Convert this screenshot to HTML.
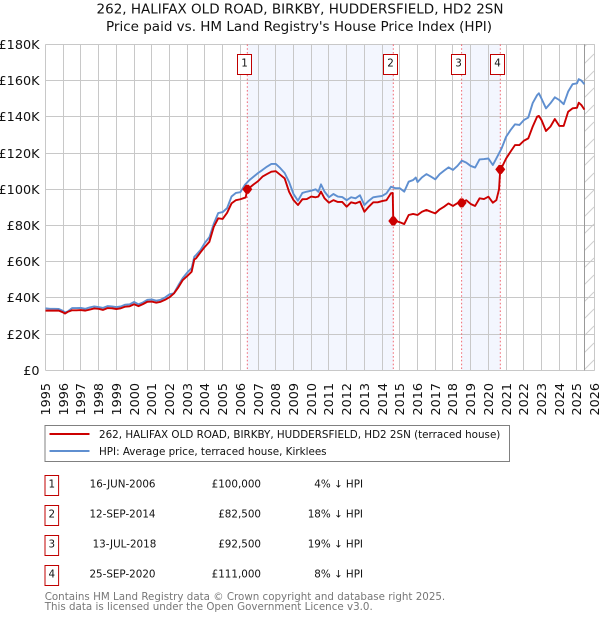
<!DOCTYPE html>
<html lang="en">
<head>
<meta charset="utf-8">
<title>262, Halifax Old Road price paid vs HPI</title>
<style>
html,body{margin:0;padding:0;background:#fff;width:600px;height:620px;overflow:hidden}
svg{display:block;font-family:"DejaVu Sans","Liberation Sans",sans-serif}
</style>
</head>
<body>
<svg id="chart" xmlns="http://www.w3.org/2000/svg" width="600" height="620" viewBox="0 0 600 620">
  <defs>
    <pattern id="hatch" patternUnits="userSpaceOnUse" x="0" y="0" width="11" height="17">
      <line x1="0" y1="14" x2="11" y2="3" stroke="#cfcfcf" stroke-width="1"/>
    </pattern>
  </defs>
  <text x="300" y="13.3" text-anchor="middle" font-size="13.5" fill="#111">262, HALIFAX OLD ROAD, BIRKBY, HUDDERSFIELD, HD2 2SN</text>
  <text x="299" y="31" text-anchor="middle" font-size="13.5" fill="#111">Price paid vs. HM Land Registry's House Price Index (HPI)</text>
  <g id="plot"></g>

  <g>
    <rect x="45" y="425.5" width="464.5" height="36" fill="#fff" stroke="#808080" stroke-width="1"/>
    <line x1="49.5" y1="434" x2="89.5" y2="434" stroke="#cc0000" stroke-width="2"/>
    <text x="99" y="438" font-size="10.35" fill="#111">262, HALIFAX OLD ROAD, BIRKBY, HUDDERSFIELD, HD2 2SN (terraced house)</text>
    <line x1="49.5" y1="451" x2="89.5" y2="451" stroke="#5f8fd0" stroke-width="2"/>
    <text x="99" y="455" font-size="10.35" fill="#111">HPI: Average price, terraced house, Kirklees</text>
  </g>

  <g font-size="10.35" fill="#111">
    <g>
      <rect x="45" y="475.5" width="13.6" height="20" fill="#fff" stroke="#c00000"/>
      <text x="51.8" y="487.5" text-anchor="middle">1</text>
      <text x="155.5" y="487.5" text-anchor="end">16-JUN-2006</text>
      <text x="261" y="487.5" text-anchor="end">£100,000</text>
      <text x="363" y="487.5" text-anchor="end">4% ↓ HPI</text>
    </g>
    <g>
      <rect x="45" y="505.5" width="13.6" height="20" fill="#fff" stroke="#c00000"/>
      <text x="51.8" y="517.5" text-anchor="middle">2</text>
      <text x="155.5" y="517.5" text-anchor="end">12-SEP-2014</text>
      <text x="261" y="517.5" text-anchor="end">£82,500</text>
      <text x="363" y="517.5" text-anchor="end">18% ↓ HPI</text>
    </g>
    <g>
      <rect x="45" y="535.5" width="13.6" height="20" fill="#fff" stroke="#c00000"/>
      <text x="51.8" y="547.5" text-anchor="middle">3</text>
      <text x="156.3" y="547.5" text-anchor="end">13-JUL-2018</text>
      <text x="261" y="547.5" text-anchor="end">£92,500</text>
      <text x="363" y="547.5" text-anchor="end">19% ↓ HPI</text>
    </g>
    <g>
      <rect x="45" y="565.5" width="13.6" height="20" fill="#fff" stroke="#c00000"/>
      <text x="51.8" y="577.5" text-anchor="middle">4</text>
      <text x="155.5" y="577.5" text-anchor="end">25-SEP-2020</text>
      <text x="261" y="577.5" text-anchor="end">£111,000</text>
      <text x="363" y="577.5" text-anchor="end">8% ↓ HPI</text>
    </g>
  </g>

  <text x="44.7" y="600" font-size="10.3" fill="#777">Contains HM Land Registry data © Crown copyright and database right 2025.</text>
  <text x="44.7" y="610" font-size="10.3" fill="#777">This data is licensed under the Open Government Licence v3.0.</text>
</svg>
<script>
const xTickYears = [1995,1996,1997,1998,1999,2000,2001,2002,2003,2004,2005,2006,2007,2008,2009,2010,2011,2012,2013,2014,2015,2016,2017,2018,2019,2020,2021,2022,2023,2024,2025,2026];
const yTickValues = [0,20,40,60,80,100,120,140,160,180];
const yTickLabels = ['£0','£20K','£40K','£60K','£80K','£100K','£120K','£140K','£160K','£180K'];

const hpiYears = [1995,1995.25,1995.5,1995.75,1996,1996.1,1996.25,1996.5,1996.75,1997,1997.25,1997.5,1997.75,1998,1998.25,1998.5,1998.75,1999,1999.25,1999.5,1999.75,2000,2000.25,2000.5,2000.75,2001,2001.25,2001.5,2001.75,2002,2002.25,2002.5,2002.75,2003,2003.25,2003.4,2003.5,2003.75,2004,2004.25,2004.5,2004.75,2005,2005.25,2005.5,2005.75,2006,2006.25,2006.5,2006.75,2007,2007.25,2007.5,2007.75,2008,2008.25,2008.5,2008.75,2009,2009.25,2009.5,2009.75,2010,2010.25,2010.4,2010.55,2010.75,2011,2011.25,2011.5,2011.75,2012,2012.25,2012.5,2012.75,2013,2013.25,2013.5,2013.75,2014,2014.25,2014.5,2014.75,2015,2015.25,2015.5,2015.75,2015.9,2016,2016.25,2016.5,2016.75,2017,2017.25,2017.5,2017.75,2018,2018.25,2018.5,2018.75,2019,2019.25,2019.5,2019.75,2020,2020.25,2020.5,2020.75,2021,2021.25,2021.5,2021.75,2022,2022.25,2022.5,2022.75,2022.85,2023,2023.25,2023.5,2023.75,2024,2024.25,2024.5,2024.75,2025,2025.1,2025.25,2025.42];
const hpiValues = [34.3,34,34,33.9,32.8,32,32.5,34.4,34.4,34.5,34,34.8,35.3,35,34.5,35.5,35.3,35,35.3,36.3,36.5,37.8,36.5,37.5,39,39.2,38.5,39,40.3,42,42.6,47,51,54,56.5,62.8,63.7,66.5,70.5,73.5,81,86.9,87.4,89.6,96,98,98.4,102.4,105,107,109,110.7,112.5,114,114,111.7,109,104,97.4,93.7,98,98.7,99.2,100,98.6,102.7,98.7,95.6,97.4,96,95.7,94,95.6,95,96.7,91.3,93.7,95.6,96,96.3,97.8,101.4,100.6,100.6,98.7,104.2,105.1,106.5,104,106.6,108.4,107,105.5,108.4,110.3,112.1,110.7,112.9,115.8,114.7,112.9,112,116.5,116.7,117,113.4,118,122.7,129,132.7,135.9,135.5,138.2,139.6,147.6,152,153,150,144.7,147.5,150.8,149.3,147,153.9,158,158.5,160.8,160,158];

const paidYears = [1995,1995.25,1995.5,1995.75,1996,1996.1,1996.25,1996.5,1996.75,1997,1997.25,1997.5,1997.75,1998,1998.25,1998.5,1998.75,1999,1999.25,1999.5,1999.75,2000,2000.25,2000.5,2000.75,2001,2001.25,2001.5,2001.75,2002,2002.25,2002.5,2002.75,2003,2003.25,2003.4,2003.5,2003.75,2004,2004.25,2004.5,2004.75,2005,2005.25,2005.5,2005.75,2006,2006.3,2006.39,2006.5,2006.75,2007,2007.25,2007.5,2007.75,2008,2008.25,2008.5,2008.75,2009,2009.25,2009.5,2009.75,2010,2010.25,2010.4,2010.55,2010.75,2011,2011.25,2011.5,2011.75,2012,2012.25,2012.5,2012.75,2013,2013.25,2013.5,2013.75,2014,2014.25,2014.5,2014.6,2014.63,2014.75,2015,2015.25,2015.5,2015.75,2016,2016.25,2016.5,2016.75,2017,2017.25,2017.5,2017.75,2018,2018.25,2018.49,2018.75,2019,2019.25,2019.5,2019.75,2020,2020.25,2020.45,2020.6,2020.67,2020.8,2021,2021.25,2021.5,2021.75,2022,2022.25,2022.5,2022.75,2022.85,2023,2023.25,2023.5,2023.75,2024,2024.25,2024.5,2024.75,2025,2025.1,2025.25,2025.42];
const paidValues = [33,33,33,33,32,31.4,32.3,33.2,33.2,33.3,33,33.6,34.2,34,33.4,34.4,34.3,33.9,34.3,35.2,35.4,36.5,35.5,36.6,37.9,38,37.4,37.9,39,40.4,42.5,45.9,49.9,52.1,54.5,61.3,61.9,65.2,68.3,71,79.3,84,83.6,87,92.2,94,94.5,95.5,100,100.7,102.7,104.5,107,108.4,109.7,110,108,106,98.6,94,91.3,94.5,94.6,96,95.6,96,98.7,95,92.6,94,93,93,90.4,92.8,92.2,93.2,87.6,90.4,92.8,92.8,93.5,94,97.8,98,82.5,82.5,81.8,80.8,85.8,86.4,85.8,87.6,88.6,87.6,86.7,88.9,90.4,92.2,90.8,92.3,92.5,94,91.9,90.8,95,94.6,95.9,92.6,94,100,111,113,117,120.8,124.4,124.4,126.8,128.1,134.6,140.1,140.5,138.2,132.2,134.6,138.8,135,135,142.8,144.7,145,147.8,146.5,144];

const saleYears = [2006.39,2014.63,2018.49,2020.67];
const salePrices = [100,82.5,92.5,111];
const saleLabels = ['1','2','3','4'];

const SVGNS = 'http://www.w3.org/2000/svg';
const plot = document.getElementById('plot');
const LEFT = 45.5, RIGHT = 594.7, TOP = 44.4, BOTTOM = 370.4;
const END_DATA = 2025.42;

function xScale(year){ return LEFT + (year - 1995) * (RIGHT - LEFT) / 31; }
function yScale(value){ return BOTTOM - value * (BOTTOM - TOP) / 180; }
function crisp(v){ return Math.floor(v) + 0.5; }
function make(tag, attrs, parent){
  const node = document.createElementNS(SVGNS, tag);
  for (const key in attrs) node.setAttribute(key, attrs[key]);
  (parent || plot).appendChild(node);
  return node;
}
function linePath(xs, ys){
  return xs.map(function(x, i){
    return (i ? 'L' : 'M') + xScale(x).toFixed(2) + ' ' + yScale(ys[i]).toFixed(2);
  }).join(' ');
}

/* sale-period shading */
for (let i = 0; i + 1 < saleYears.length; i += 2) {
  const band = make('rect', {x: xScale(saleYears[i]), y: TOP, width: xScale(saleYears[i+1]) - xScale(saleYears[i]), height: BOTTOM - TOP, fill: '#f3f6fe'});
  
  
}

/* forecast hatch */
const hatchRect = make('rect', {x: xScale(END_DATA), y: TOP, width: RIGHT - xScale(END_DATA), height: BOTTOM - TOP, fill: 'url(#hatch)'});



/* grid + x ticks */
xTickYears.forEach(function(year){
  const x = crisp(xScale(year));
  const grid = make('line', {x1: x, y1: TOP, x2: x, y2: BOTTOM, stroke: '#c8c8c8', 'stroke-width': 1});
  
  
  const label = make('text', {transform: 'translate(' + (x + 4.7) + ',415.5) rotate(-90)', 'font-size': 12.8, fill: '#111'});
  
  
  label.textContent = year;
});

/* grid + y ticks */
yTickValues.forEach(function(value, i){
  const y = crisp(yScale(value));
  const grid = make('line', {x1: LEFT, y1: y, x2: RIGHT, y2: y, stroke: '#c8c8c8', 'stroke-width': 1});
  
  
  const label = make('text', {x: 39.5, y: y + 4.7, 'text-anchor': 'end', 'font-size': 12.8, fill: '#111'});
  
  
  label.textContent = yTickLabels[i];
});

/* end of data line */
const endLine = make('line', {x1: crisp(xScale(END_DATA)), y1: TOP, x2: crisp(xScale(END_DATA)), y2: BOTTOM, stroke: '#999', 'stroke-width': 1});



/* sale date lines */
saleYears.forEach(function(year){
  const x = xScale(year);
  const rule = make('line', {x1: x, y1: TOP, x2: x, y2: BOTTOM, stroke: '#ee5a66', 'stroke-width': 0.9, 'stroke-dasharray': '1.6 2.2'});
  
  
});

/* series */
const hpiLine = make('path', {d: linePath(hpiYears, hpiValues), fill: 'none', stroke: '#5f8fd0', 'stroke-width': 1.9, 'stroke-linejoin': 'round'});


const paidLine = make('path', {d: linePath(paidYears, paidValues), fill: 'none', stroke: '#cc0000', 'stroke-width': 1.9, 'stroke-linejoin': 'round'});



/* sale markers + badges */
saleYears.forEach(function(year, i){
  const x = xScale(year), y = yScale(salePrices[i]), r = 5;
  const marker = make('polygon', {points: [x-r,y, x-1.5,y-r+0.5, x+1.5,y-r+0.5, x+r,y, x+1.5,y+r-0.5, x-1.5,y+r-0.5].join(' '), fill: '#cc0000'});
  
  
  const badgeBox = make('rect', {x: crisp(x - 10), y: 54.5, width: 14, height: 20, fill: '#fff', stroke: '#c00000', 'stroke-width': 1});
  
  
  const badgeText = make('text', {x: crisp(x - 10) + 7, y: 66.5, 'text-anchor': 'middle', 'font-size': 10.35, fill: '#111'});
  
  
  badgeText.textContent = saleLabels[i];
});
</script>
</body>
</html>
